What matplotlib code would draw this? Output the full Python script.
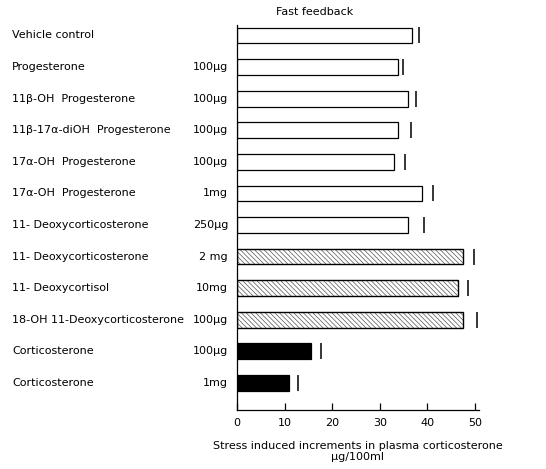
import matplotlib
matplotlib.use("Agg")
import matplotlib.pyplot as plt
import matplotlib.transforms as mtransforms

names = ["Vehicle control", "Progesterone", "11β-OH  Progesterone",
         "11β-17α-diOH  Progesterone", "17α-OH  Progesterone", "17α-OH  Progesterone",
         "11- Deoxycorticosterone", "11- Deoxycorticosterone", "11- Deoxycortisol",
         "18-OH 11-Deoxycorticosterone", "Corticosterone", "Corticosterone"]
doses = ["", "100µg", "100µg", "100µg", "100µg", "1mg", "250µg", "2 mg", "10mg",
         "100µg", "100µg", "1mg"]
values = [36.7, 33.8, 35.9, 33.9, 33.0, 38.9, 36.0, 47.4, 46.4, 47.5, 15.5, 11.0]
upper = [38.3, 34.8, 37.7, 36.5, 35.3, 41.2, 39.3, 49.7, 48.6, 50.5, 17.6, 12.8]
groups = ["open"] * 7 + ["hatched"] * 3 + ["solid"] * 2
xticks = [0, 10, 20, 30, 40, 50]

plt.rcParams['font.family'] = ['DejaVu Sans']
plt.rcParams['hatch.linewidth'] = 0.5
plt.rcParams['hatch.color'] = '#555555'

fig = plt.figure(figsize=(5.46, 4.69), dpi=100)
ax = fig.add_axes([0.434, 0.1258, 0.877 - 0.434, 0.9467 - 0.1258])

ypos = list(range(len(names)))
for y, v, g in zip(ypos, values, groups):
    if g == "open":
        ax.barh(y, v, height=0.5, color="white", edgecolor="black", linewidth=0.9)
    elif g == "hatched":
        ax.barh(y, v, height=0.5, color="white", edgecolor="#555555", linewidth=0.9,
                hatch="\\" * 7)
        ax.barh(y, v, height=0.5, color="none", edgecolor="black", linewidth=0.9)
    else:
        ax.barh(y, v, height=0.5, color="black", edgecolor="black", linewidth=0.9)

ax.plot(upper, ypos, linestyle="none", marker="|", markersize=12,
        markeredgewidth=1.1, color="black", clip_on=False)

ax.set_xlim(0, 50.8)
ax.set_ylim(11.855, -0.33)
ax.set_yticks([])
ax.set_xticks(xticks)
ax.set_xticklabels([str(t) for t in xticks], fontsize=8)
ax.tick_params(axis="x", direction="in", length=5, width=0.9, pad=6)
for s in ["top", "right"]:
    ax.spines[s].set_visible(False)
for s in ["left", "bottom"]:
    ax.spines[s].set_linewidth(0.9)

trans = mtransforms.blended_transform_factory(fig.transFigure, ax.transData)
for y, n, d in zip(ypos, names, doses):
    ax.text(12 / 546, y, n, transform=trans, fontsize=8, ha="left", va="center")
    if d:
        ax.text(228 / 546, y, d, transform=trans, fontsize=8, ha="right", va="center")

fig.text(315 / 546, 1 - 12 / 469, "Fast feedback", fontsize=8, ha="center", va="center")
ax.set_xlabel("Stress induced increments in plasma corticosterone\nµg/100ml",
              fontsize=8, labelpad=9, linespacing=1.1)

fig.savefig("out.png", dpi=100)
